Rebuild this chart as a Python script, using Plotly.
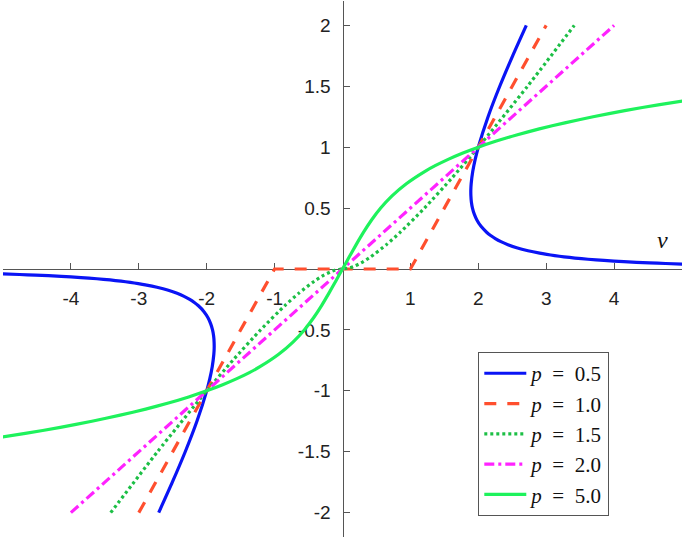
import plotly.graph_objects as go

# ---- data (v on x-axis, value on y-axis) ----
sp = "\u2002"
names = [f"<i>p</i>{sp}={sp}0.5", f"<i>p</i>{sp}={sp}1.0", f"<i>p</i>{sp}={sp}1.5",
         f"<i>p</i>{sp}={sp}2.0", f"<i>p</i>{sp}={sp}5.0"]

p05_x = [5.04, 4.759, 4.522, 4.142, 3.850, 3.616, 3.423, 3.262, 3.125, 3.007, 2.904, 2.732, 2.565,
         2.436, 2.333, 2.25, 2.182, 2.126, 2.040, 1.981, 1.941, 1.914, 1.898, 1.891, 1.890, 1.895,
         1.918, 1.954, 2.0, 2.144, 2.316, 2.506, 2.707, None,
         -5.04, -4.759, -4.522, -4.142, -3.850, -3.616, -3.423, -3.262, -3.125, -3.007, -2.904, -2.732, -2.565,
         -2.436, -2.333, -2.25, -2.182, -2.126, -2.040, -1.981, -1.941, -1.914, -1.898, -1.891, -1.890, -1.895,
         -1.918, -1.954, -2.0, -2.144, -2.316, -2.506, -2.707]
p05_y = [0.04, 0.045, 0.05, 0.06, 0.07, 0.08, 0.09, 0.1, 0.11, 0.12, 0.13, 0.15, 0.175,
         0.2, 0.225, 0.25, 0.275, 0.3, 0.35, 0.4, 0.45, 0.5, 0.55, 0.6, 0.65, 0.7,
         0.8, 0.9, 1.0, 1.25, 1.5, 1.75, 2.0, None,
         -0.04, -0.045, -0.05, -0.06, -0.07, -0.08, -0.09, -0.1, -0.11, -0.12, -0.13, -0.15, -0.175,
         -0.2, -0.225, -0.25, -0.275, -0.3, -0.35, -0.4, -0.45, -0.5, -0.55, -0.6, -0.65, -0.7,
         -0.8, -0.9, -1.0, -1.25, -1.5, -1.75, -2.0]

p10_x = [-3.0, -1.0, 1.0, 3.0]
p10_y = [-2.0, 0.0, 0.0, 2.0]

p15_x = [-3.414, -2.725, -2.0, -1.616, -1.207, -0.848, -0.647, -0.416, -0.274, -0.161, -0.11, 0.0,
         0.11, 0.161, 0.274, 0.416, 0.647, 0.848, 1.207, 1.616, 2.0, 2.725, 3.414]
p15_y = [-2.0, -1.5, -1.0, -0.75, -0.5, -0.3, -0.2, -0.1, -0.05, -0.02, -0.01, 0.0,
         0.01, 0.02, 0.05, 0.1, 0.2, 0.3, 0.5, 0.75, 1.0, 1.5, 2.0]

p20_x = [-4.0, 4.0]
p20_y = [-2.0, 2.0]

p50_x = [-5.242, -4.672, -4.156, -3.691, -3.274, -2.899, -2.564, -2.2655, -2.0, -1.7645, -1.5561,
         -1.372, -1.2096, -0.9401, -0.7296, -0.5625, -0.4256, -0.3081, -0.2016, -0.1001, 0.0,
         0.1001, 0.2016, 0.3081, 0.4256, 0.5625, 0.7296, 0.9401, 1.2096, 1.372, 1.5561, 1.7645,
         2.0, 2.2655, 2.564, 2.899, 3.274, 3.691, 4.156, 4.672, 5.242]
p50_y = [-1.4, -1.35, -1.3, -1.25, -1.2, -1.15, -1.1, -1.05, -1.0, -0.95, -0.9,
         -0.85, -0.8, -0.7, -0.6, -0.5, -0.4, -0.3, -0.2, -0.1, 0.0,
         0.1, 0.2, 0.3, 0.4, 0.5, 0.6, 0.7, 0.8, 0.85, 0.9, 0.95,
         1.0, 1.05, 1.1, 1.15, 1.2, 1.25, 1.3, 1.35, 1.4]

x_ticks = [-4, -3, -2, -1, 1, 2, 3, 4]
x_labels = ["-4", "-3", "-2", "-1", "1", "2", "3", "4"]
y_ticks = [-2, -1.5, -1, -0.5, 0.5, 1, 1.5, 2]
y_labels = ["-2", "-1.5", "-1", "-0.5", "0.5", "1", "1.5", "2"]

colors = ["#0a14f5", "#ff4f2e", "#1cbf45", "#ff22ff", "#1ef25c"]
dashes = ["solid", "12px,11px", "3px,3px", "10px,4px,3px,4px", "solid"]
shapes = ["spline", "linear", "spline", "linear", "spline"]
series = [(p05_x, p05_y), (p10_x, p10_y), (p15_x, p15_y), (p20_x, p20_y), (p50_x, p50_y)]

fig = go.Figure()
for (xs, ys), nm, c, d, s in zip(series, names, colors, dashes, shapes):
    fig.add_trace(go.Scatter(x=xs, y=ys, mode="lines", name=nm,
                             line=dict(color=c, width=3.2, dash=d, shape=s, smoothing=0.6),
                             connectgaps=False))

axis_common = dict(showgrid=False, zeroline=False, showline=True, linecolor="#555555",
                   linewidth=1.2, ticks="inside", ticklen=6, tickcolor="#555555",
                   tickfont=dict(family="Liberation Sans", size=19, color="#222222"),
                   layer="below traces", anchor="free", position=0.5)

fig.update_layout(
    width=687, height=544,
    margin=dict(l=3, r=5, t=1, b=7),
    paper_bgcolor="white", plot_bgcolor="white",
    xaxis=dict(range=[-5, 5], tickvals=x_ticks, ticktext=x_labels,
               ticklabelstandoff=12, **axis_common),
    yaxis=dict(range=[-2.2, 2.2], tickvals=y_ticks, ticktext=y_labels,
               ticklabelstandoff=8, **axis_common),
    showlegend=True,
    legend=dict(x=0.70, y=0.345, xanchor="left", yanchor="top",
                bgcolor="white", bordercolor="#555555", borderwidth=1,
                itemwidth=42,
                font=dict(family="Liberation Serif", size=21, color="#111111")),
    annotations=[dict(x=4.72, y=0.24, xref="x", yref="y", text="<i>v</i>",
                      showarrow=False,
                      font=dict(family="Liberation Serif", size=24, color="#111111"))],
)

fig.write_html("out.html")
